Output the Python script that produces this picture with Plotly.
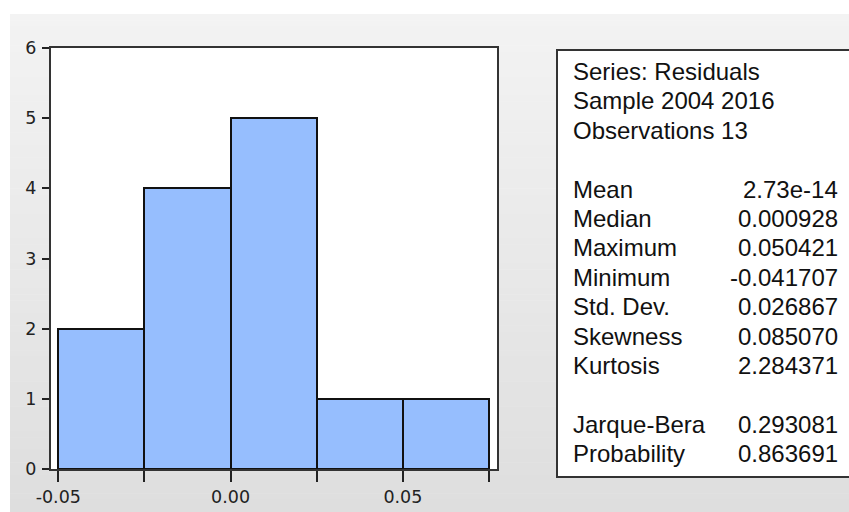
import numpy as np
import plotly.graph_objects as go

# Histogram of residuals: bin left edges and counts
bin_left = [-0.05, -0.025, 0.0, 0.025, 0.05]
bin_width = 0.025
counts = [2, 4, 5, 1, 1]

# Axis tick labels
x_tickvals = [-0.05, 0.0, 0.05]
x_ticktext = ["-0.05", "0.00", "0.05"]
y_tickvals = [0, 1, 2, 3, 4, 5, 6]

# Descriptive statistics panel
stat_header = ["Series: Residuals", "Sample 2004 2016", "Observations 13"]
stat_names = ["Mean", "Median", "Maximum", "Minimum", "Std. Dev.", "Skewness", "Kurtosis"]
stat_values = ["2.73e-14", "0.000928", "0.050421", "-0.041707", "0.026867", "0.085070", "2.284371"]
test_names = ["Jarque-Bera", "Probability"]
test_values = ["0.293081", "0.863691"]

W, H = 849, 512
L, R, T, B = 51, 497, 48, 469  # plot frame in pixels
pw, ph = R - L, B - T


def px2x(px):
    return (px - L) / pw


def px2y(py):
    return (B - py) / ph


centers = np.array(bin_left) + bin_width / 2

fig = go.Figure()
fig.add_trace(go.Bar(
    x=centers, y=counts, width=bin_width,
    marker=dict(color="#96BEFE", line=dict(color="#111111", width=2)),
    hoverinfo="skip",
))

shapes = []
# soft vertical gradient behind everything
n_bands = 80
top_px, bot_px = 14, H
c0, c1 = np.array([243, 243, 243]), np.array([222, 222, 222])
for i in range(n_bands):
    y0 = top_px + (bot_px - top_px) * i / n_bands
    y1 = top_px + (bot_px - top_px) * (i + 1) / n_bands + 0.5
    c = (c0 + (c1 - c0) * (i + 0.5) / n_bands).round().astype(int)
    shapes.append(dict(
        type="rect", xref="paper", yref="paper", layer="below",
        x0=px2x(10), x1=px2x(W + 5), y0=px2y(y1), y1=px2y(y0),
        fillcolor=f"rgb({c[0]},{c[1]},{c[2]})", line=dict(width=0),
    ))
# white plotting area
shapes.append(dict(
    type="rect", xref="paper", yref="paper", layer="below",
    x0=0, x1=1, y0=0, y1=1, fillcolor="white", line=dict(width=0),
))
# statistics box
shapes.append(dict(
    type="rect", xref="paper", yref="paper", layer="below",
    x0=px2x(557), x1=px2x(W + 10), y0=px2y(477), y1=px2y(50),
    fillcolor="white", line=dict(color="#333333", width=2),
))

annotations = []
font = dict(family="Liberation Sans, Arial, sans-serif", size=24, color="#111111")
row_h = 29.4
y_first = 71.5
rows = []
for s in stat_header:
    rows.append((s, None))
rows.append((None, None))
for n, v in zip(stat_names, stat_values):
    rows.append((n, v))
rows.append((None, None))
for n, v in zip(test_names, test_values):
    rows.append((n, v))

for k, (name, val) in enumerate(rows):
    yc = px2y(y_first + row_h * k)
    if name is not None:
        annotations.append(dict(
            text=name, xref="paper", yref="paper", x=px2x(571), y=yc,
            xanchor="left", yanchor="middle", showarrow=False, font=font,
        ))
    if val is not None:
        annotations.append(dict(
            text=val, xref="paper", yref="paper", x=px2x(840), y=yc,
            xanchor="right", yanchor="middle", showarrow=False, font=font,
        ))

tick_font = dict(family="DejaVu Sans, sans-serif", size=17.5, color="#222222")
xmin = -0.05 - 7.3 / 3444
xmax = 0.075 + 8 / 3444

fig.update_layout(
    width=W, height=H,
    margin=dict(l=L, r=W - R, t=T, b=H - B, pad=0),
    paper_bgcolor="white", plot_bgcolor="white",
    showlegend=False, bargap=0,
    shapes=shapes, annotations=annotations,
    xaxis=dict(
        range=[xmin, xmax], tickmode="array",
        tickvals=x_tickvals, ticktext=x_ticktext,
        ticks="outside", ticklen=11, tickwidth=2, tickcolor="#222222",
        minor=dict(ticks="outside", ticklen=11, tickwidth=2, tickcolor="#222222",
                   dtick=0.025, tick0=-0.05, showgrid=False),
        showline=True, linecolor="#333333", linewidth=2, mirror=True,
        showgrid=False, zeroline=False, tickfont=tick_font,
        ticklabelstandoff=0, automargin=False,
    ),
    yaxis=dict(
        range=[0, 6], tickmode="array", tickvals=y_tickvals,
        ticks="outside", ticklen=7, tickwidth=2, tickcolor="#222222",
        showline=True, linecolor="#333333", linewidth=2, mirror=True,
        showgrid=False, zeroline=False, tickfont=tick_font,
        ticklabelstandoff=2, automargin=False,
    ),
)

fig.write_html("out.html")
